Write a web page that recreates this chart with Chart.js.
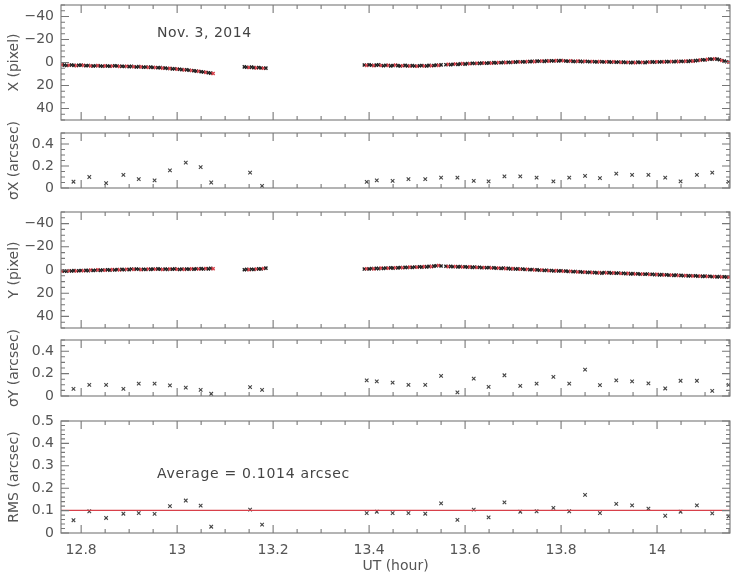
<!DOCTYPE html>
<html>
<head>
<meta charset="utf-8">
<script src="https://cdn.jsdelivr.net/npm/chart.js@4.4.0/dist/chart.umd.min.js"></script>
<style>
  html, body { margin: 0; padding: 0; background: #fff; }
  #wrap { position: relative; width: 734px; height: 575px; overflow: hidden; }
  #wrap canvas { position: absolute; left: 0; }
</style>
</head>
<body>
<div id="wrap"></div>
<script>
// ---------------- DATA ----------------
const utTicks  = [12.8, 13, 13.2, 13.4, 13.6, 13.8, 14];
const pixTicks = [-40, -20, 0, 20, 40];
const sigTicks = [0, 0.2, 0.4];
const rmsTicks = [0, 0.1, 0.2, 0.3, 0.4, 0.5];

// guide star track, sampled every 0.005 h, three runs of data
const segStart = [12.760, 13.140, 13.390];
const segStep = 0.005;

const xPix1 = [2.0, 2.3, 2.6, 2.4, 2.2, 2.5, 2.7, 2.4, 2.3,
  2.5, 2.8, 2.6, 2.9, 3.1, 2.8, 2.7, 3.0, 3.2, 2.9,
  3.0, 3.3, 3.1, 2.8, 3.0, 3.4, 3.2, 3.5, 3.3, 3.6,
  3.4, 3.7, 3.9, 3.6, 3.8, 4.1, 3.9, 4.2, 4.0, 4.4,
  4.3, 4.6, 4.5, 4.9, 4.8, 5.2, 5.1, 5.5, 5.4, 5.8,
  5.9, 6.2, 6.4, 6.3, 6.8, 7.0, 7.2, 7.5, 7.6, 8.0,
  8.3, 8.6, 8.9, 9.2, 9.6];
const xPix2 = [3.8, 4.1, 4.3, 4.0, 4.5, 4.7, 4.4, 4.8, 5.0, 4.9];
const xPix3 = [2.2, 2.5, 2.0, 2.4, 2.7, 2.3, 2.1, 2.6, 2.8, 2.4,
  2.5, 2.9, 2.6, 2.3, 2.7, 3.0, 2.8, 2.5, 2.9, 3.1,
  2.7, 3.0, 3.2, 2.8, 2.6, 3.1, 2.9, 2.5, 2.8, 2.6,
  2.3, 2.5, 2.1, null, 1.9, 1.6, 2.0, 1.5, 1.3, 1.7,
  1.2, 1.0, 1.4, 0.9, 1.1, 0.7, 0.9, 0.6, 0.8, 0.5,
  0.4, 0.7, 0.3, 0.5, 0.1, 0.3, 0.0, 0.2, -0.1, 0.1,
  -0.2, 0.0, -0.4, -0.3, -0.6, -0.4, -0.7, -0.5, -0.9, -0.8,
  -1.0, -0.8, -1.2, -1.1, -1.3, -1.0, -1.4, -1.2, -1.5, -1.3,
  -1.6, -1.4, -1.7, -1.5, -1.3, -1.1, -1.4, -1.0, -0.9, -1.2,
  -1.0, -0.8, -1.1, -0.9, -0.6, -0.9, -0.7, -0.5, -0.8, -0.6,
  -0.4, -0.7, -0.5, -0.3, -0.6, -0.2, -0.4, -0.1, -0.3, 0.0,
  -0.2, 0.1, -0.1, 0.2, -0.3, 0.0, -0.2, 0.1, -0.4, -0.2,
  -0.5, -0.3, -0.6, -0.4, -0.7, -0.5, -0.8, -0.6, -0.9, -0.7,
  -1.0, -0.8, -1.1, -0.9, -1.2, -1.0, -1.4, -1.2, -1.6, -1.8,
  -2.1, -2.4, -2.2, -2.7, -3.0, -2.8, -3.2, -2.9, -2.4, -1.8,
  -1.2, -0.6, -0.2];

const yPix1 = [1.0, 0.8, 1.1, 0.7, 0.9, 0.5, 0.8, 0.6, 0.4,
  0.7, 0.3, 0.5, 0.1, 0.4, 0.2, -0.1, 0.3, 0.0, 0.2,
  -0.2, 0.1, -0.3, 0.0, -0.4, -0.1, -0.5, -0.2, -0.6, -0.3,
  -0.8, -0.5, -0.9, -0.6, -0.3, -0.7, -0.4, -0.8, -0.5, -0.9,
  -0.6, -1.0, -0.7, -0.4, -0.8, -0.5, -0.9, -0.6, -1.0, -0.7,
  -0.4, -0.8, -0.5, -0.9, -0.6, -1.0, -0.7, -1.1, -0.8, -1.2,
  -0.9, -1.3, -1.0, -1.4, -1.1];
const yPix2 = [-0.2, -0.5, -0.3, -0.7, -0.4, -0.8, -1.0, -0.9, -1.3, -1.6];
const yPix3 = [-0.8, -1.1, -0.9, -1.3, -1.0, -1.4, -1.2, -1.6, -1.3, -1.7,
  -1.5, -1.9, -1.6, -2.0, -1.8, -2.2, -1.9, -2.3, -2.1, -2.5,
  -2.2, -2.6, -2.4, -2.8, -2.5, -2.9, -2.7, -3.1, -2.9, -3.3,
  -3.6, -3.9, -3.5, null, -3.2, -2.9, -3.1, -2.8, -3.0, -2.7,
  -2.9, -2.6, -2.8, -2.5, -2.7, -2.3, -2.5, -2.2, -2.4, -2.0,
  -2.2, -1.9, -2.1, -1.7, -1.9, -1.5, -1.7, -1.3, -1.6, -1.2,
  -1.4, -1.0, -1.2, -0.8, -1.0, -0.6, -0.8, -0.4, -0.6, -0.2,
  -0.4, 0.0, -0.2, 0.2, 0.0, 0.4, 0.2, 0.6, 0.4, 0.8,
  0.5, 0.9, 0.7, 1.1, 0.9, 1.3, 1.1, 1.5, 1.3, 1.7,
  1.5, 1.9, 1.7, 2.1, 1.9, 2.3, 2.1, 2.5, 2.3, 2.7,
  2.1, 2.5, 2.3, 2.7, 2.5, 2.8, 2.6, 3.0, 2.8, 3.1,
  2.9, 3.3, 3.1, 3.4, 3.2, 3.6, 3.4, 3.7, 3.5, 3.9,
  3.7, 4.0, 3.8, 4.2, 4.0, 4.3, 4.1, 4.5, 4.3, 4.6,
  4.4, 4.8, 4.6, 4.9, 4.7, 5.1, 4.9, 5.2, 5.0, 5.4,
  5.2, 5.5, 5.3, 5.6, 5.4, 5.8, 5.6, 5.9, 5.7, 6.0,
  5.8, 6.1, 6.0];

// per-exposure statistics
const sigTime = [12.784, 12.817, 12.852, 12.888, 12.920, 12.953, 12.985, 13.018, 13.049, 13.071,
  13.152, 13.177,
  13.395, 13.416, 13.449, 13.482, 13.517, 13.550, 13.584, 13.618, 13.649, 13.682,
  13.715, 13.749, 13.784, 13.817, 13.850, 13.881, 13.915, 13.948, 13.982, 14.017,
  14.049, 14.083, 14.115, 14.149];
const sigmaX = [0.057, 0.10, 0.045, 0.12, 0.08, 0.07, 0.16, 0.23, 0.19, 0.05,
  0.14, 0.02,
  0.055, 0.07, 0.065, 0.08, 0.08, 0.095, 0.095, 0.065, 0.06, 0.105,
  0.105, 0.095, 0.06, 0.095, 0.11, 0.09, 0.13, 0.12, 0.12, 0.095,
  0.06, 0.12, 0.14, 0.055];
const sigmaY = [0.064, 0.10, 0.10, 0.064, 0.11, 0.11, 0.095, 0.075, 0.055, 0.02,
  0.08, 0.055,
  0.14, 0.13, 0.12, 0.10, 0.10, 0.18, 0.033, 0.155, 0.082, 0.185,
  0.09, 0.11, 0.17, 0.11, 0.235, 0.097, 0.14, 0.13, 0.112, 0.067,
  0.136, 0.136, 0.045, 0.10];
const rms = [0.057, 0.097, 0.067, 0.086, 0.089, 0.085, 0.12, 0.145, 0.122, 0.028,
  0.104, 0.037,
  0.089, 0.095, 0.089, 0.089, 0.086, 0.132, 0.059, 0.104, 0.07, 0.137,
  0.095, 0.097, 0.112, 0.097, 0.17, 0.089, 0.13, 0.123, 0.109, 0.077,
  0.095, 0.123, 0.088, 0.074];
const rmsAverage = 0.1014;

const X_MIN = 12.758, X_MAX = 14.152;

// ---------------- HELPERS ----------------
const FONT = '"DejaVu Sans", sans-serif';
const TXT = '#555';
const RED = '#d8404a';
const BLK = '#222';

function track(segs) {
  const pts = [];
  segs.forEach((vals, s) => vals.forEach((v, i) => {
    if (v !== null) pts.push({x: segStart[s] + i * segStep, y: v});
  }));
  return pts;
}
function pairs(xs, ys) { return xs.map((x, i) => ({x: x, y: ys[i]})); }

function trackSet(pts) {
  const col = c => (c.dataIndex % 3 === 0 ? RED : BLK);
  return {data: pts, pointStyle: 'crossRot', pointRadius: 2.2, borderWidth: 1.4,
    pointBorderColor: col, pointBackgroundColor: col, pointHoverRadius: 2.2};
}
function sigSet(pts) {
  return {data: pts, pointStyle: 'crossRot', pointRadius: 2.5, borderWidth: 1.1,
    pointBorderColor: '#444', pointBackgroundColor: '#444', pointHoverRadius: 2.5};
}

// box round the plot with inward ticks on all four sides
const framePlugin = {
  id: 'frame',
  afterDatasetsDraw(chart, args, o) {
    const {ctx, chartArea: a, scales: {x, y}} = chart;
    ctx.save();
    ctx.strokeStyle = '#777';
    ctx.lineWidth = 1.1;
    ctx.strokeRect(a.left, a.top, a.right - a.left, a.bottom - a.top);
    ctx.beginPath();
    for (let k = Math.ceil(X_MIN / 0.05); k * 0.05 <= X_MAX; k++) {
      const px = x.getPixelForValue(k * 0.05);
      const len = k % 4 === 0 ? 8 : 4;
      ctx.moveTo(px, a.top); ctx.lineTo(px, a.top + len);
      ctx.moveTo(px, a.bottom); ctx.lineTo(px, a.bottom - len);
    }
    for (let k = Math.ceil(o.min / o.minor - 1e-6); k * o.minor <= o.max + 1e-9; k++) {
      const py = y.getPixelForValue(k * o.minor);
      const len = k % o.ratio === 0 ? 8 : 4;
      ctx.moveTo(a.left, py); ctx.lineTo(a.left + len, py);
      ctx.moveTo(a.right, py); ctx.lineTo(a.right - len, py);
    }
    ctx.stroke();
    ctx.restore();
  }
};

const notePlugin = {
  id: 'note',
  afterDatasetsDraw(chart, args, o) {
    if (!o.text) return;
    const {ctx, scales: {x, y}} = chart;
    ctx.save();
    ctx.font = '14px ' + FONT;
    ctx.fillStyle = '#444';
    ctx.letterSpacing = o.spacing || '0px';
    ctx.textBaseline = 'middle';
    ctx.fillText(o.text, x.getPixelForValue(o.at[0]), y.getPixelForValue(o.at[1]));
    ctx.restore();
  }
};

const fmt = v => (v < 0 ? '\u2212' + Math.abs(v) : String(v));

// ---------------- PANELS ----------------
const panels = [
  {top: 5, bottom: 120, title: 'X (pixel)', min: -50, max: 50, reverse: true, ticks: pixTicks, minor: 5, ratio: 4,
    sets: [trackSet(track([xPix1, xPix2, xPix3]))],
    note: {text: 'Nov. 3, 2014', at: [12.958, -25], spacing: '0.5px'}},
  {top: 133, bottom: 188, title: '\u03c3X (arcsec)', min: 0, max: 0.5, reverse: false, ticks: sigTicks, minor: 0.05, ratio: 4,
    sets: [sigSet(pairs(sigTime, sigmaX))]},
  {top: 212, bottom: 328, title: 'Y (pixel)', min: -50, max: 50, reverse: true, ticks: pixTicks, minor: 5, ratio: 4,
    sets: [trackSet(track([yPix1, yPix2, yPix3]))]},
  {top: 340, bottom: 396, title: '\u03c3Y (arcsec)', min: 0, max: 0.5, reverse: false, ticks: sigTicks, minor: 0.05, ratio: 4,
    sets: [sigSet(pairs(sigTime, sigmaY))]},
  {top: 421, bottom: 533, title: 'RMS (arcsec)', min: 0, max: 0.5, reverse: false, ticks: rmsTicks, minor: 0.02, ratio: 5,
    sets: [
      {data: [{x: X_MIN, y: rmsAverage}, {x: X_MAX, y: rmsAverage}], showLine: true, borderColor: RED,
        borderWidth: 1.2, pointRadius: 0, pointHoverRadius: 0},
      sigSet(pairs(sigTime, rms))
    ],
    note: {text: 'Average = 0.1014 arcsec', at: [12.958, 0.263], spacing: '0.7px'}}
];

const wrap = document.getElementById('wrap');
panels.forEach((p, n) => {
  const last = n === panels.length - 1;
  const padTop = Math.min(p.top, 30);
  const padBot = last ? 0 : 30;
  const top = p.top - padTop;
  const h = last ? 575 - top : (p.bottom - p.top) + padTop + padBot;
  const cv = document.createElement('canvas');
  cv.width = 734; cv.height = h;
  cv.style.width = '734px'; cv.style.height = h + 'px'; cv.style.top = top + 'px';
  wrap.appendChild(cv);

  new Chart(cv, {
    type: 'scatter',
    data: {datasets: p.sets},
    options: {
      responsive: false, animation: false, devicePixelRatio: 1,
      layout: {padding: {top: padTop, bottom: padBot, left: 0, right: 4}},
      plugins: {
        legend: {display: false}, tooltip: {enabled: false},
        frame: {min: p.min, max: p.max, minor: p.minor, ratio: p.ratio},
        note: p.note || {}
      },
      scales: {
        x: {
          type: 'linear', min: X_MIN, max: X_MAX, display: last,
          grid: {display: false, drawTicks: false}, border: {display: false},
          afterBuildTicks: s => { s.ticks = utTicks.map(v => ({value: v})); },
          afterFit: s => { s.height = last ? 42 : 0; s.paddingLeft = 0; s.paddingRight = 0; },
          ticks: {padding: 9, color: TXT, font: {family: FONT, size: 14}, maxRotation: 0, autoSkip: false,
            callback: fmt},
          title: {display: true, text: 'UT (hour)', color: TXT, font: {family: FONT, size: 14},
            padding: {top: 0, bottom: 0}}
        },
        y: {
          type: 'linear', min: p.min, max: p.max, reverse: p.reverse,
          grid: {display: false, drawTicks: false}, border: {display: false},
          afterBuildTicks: s => { s.ticks = p.ticks.map(v => ({value: v})); },
          afterFit: s => { s.width = 61; s.paddingTop = 0; s.paddingBottom = 0; },
          ticks: {padding: 7, color: TXT, font: {family: FONT, size: 14}, autoSkip: false, callback: fmt},
          title: {display: true, text: p.title, color: TXT, font: {family: FONT, size: 14},
            padding: {top: 6, bottom: 0}}
        }
      }
    },
    plugins: [framePlugin, notePlugin]
  });
});
</script>
</body>
</html>
